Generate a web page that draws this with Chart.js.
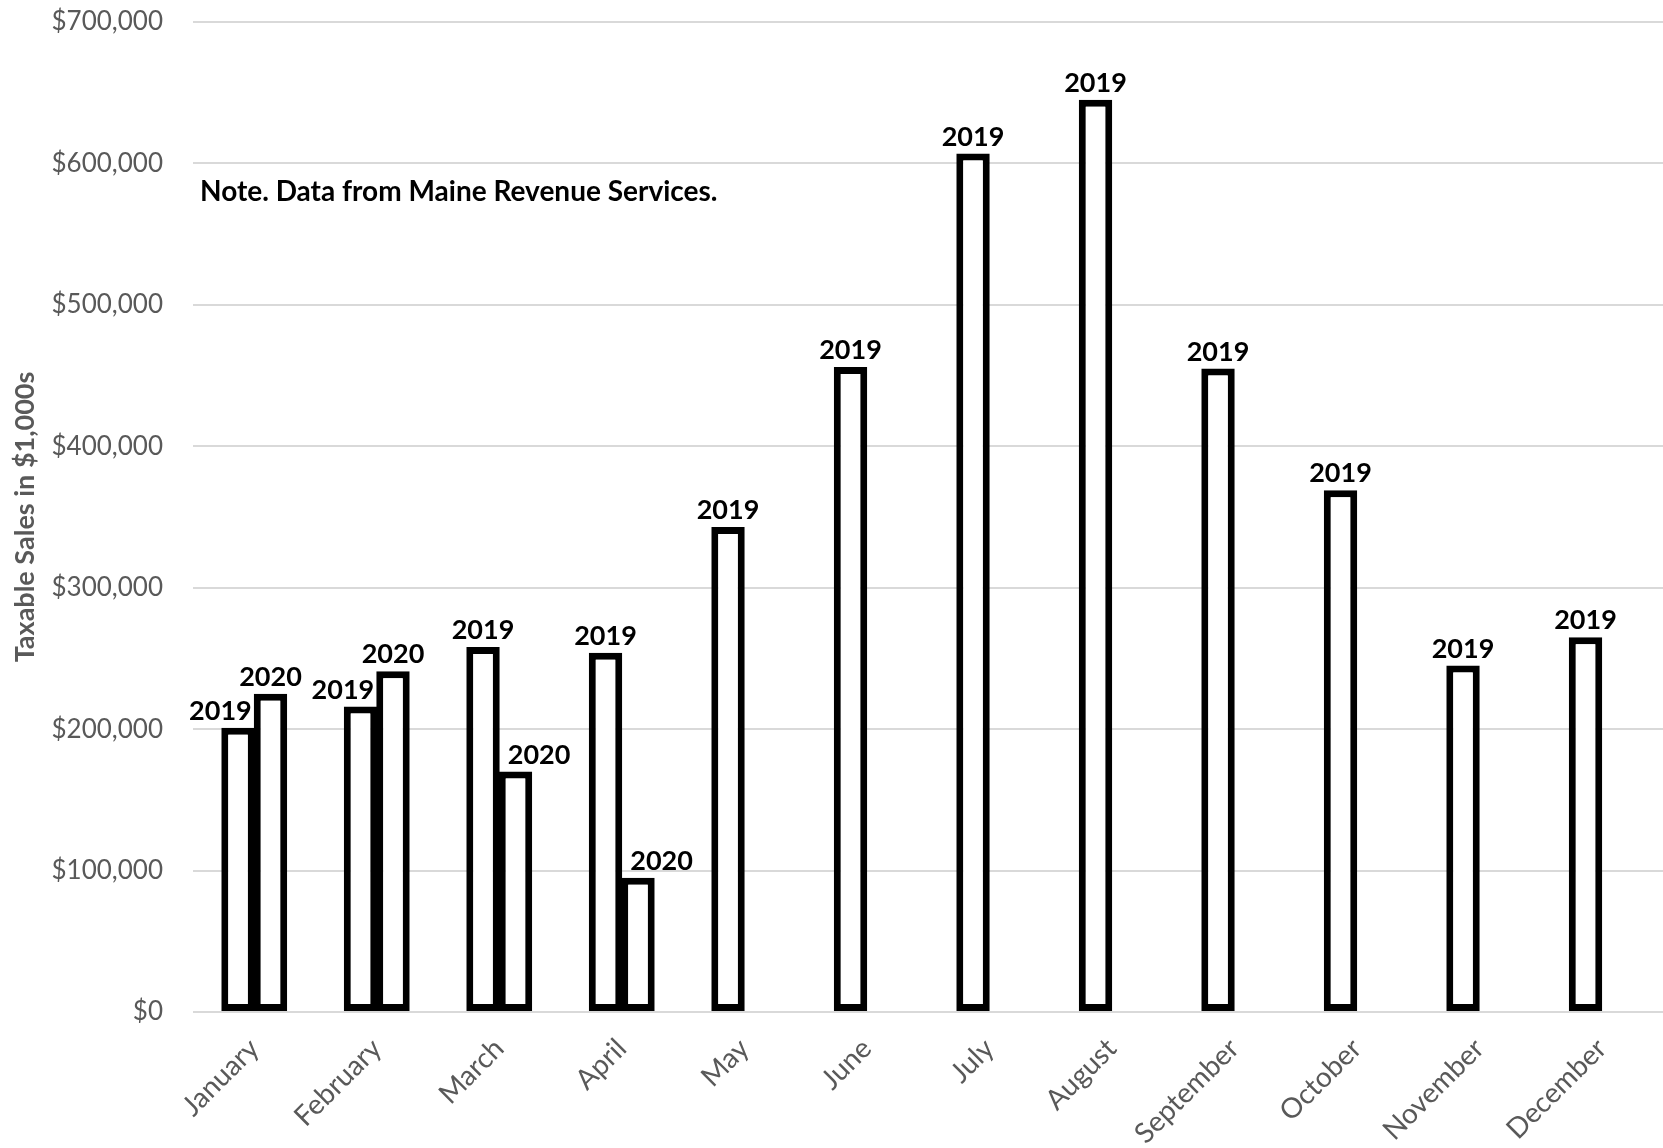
<!DOCTYPE html>
<html>
<head>
<meta charset="utf-8">
<script src="https://cdn.jsdelivr.net/npm/chart.js@4"></script>
<style>
  body { margin: 0; background: #fff; }
  #wrap { width: 1663px; height: 1148px; position: relative; }
</style>
</head>
<body>
<div id="wrap"><canvas id="sales-chart"></canvas></div>
<script>
// Taxable sales in $1,000s
const months = ['January', 'February', 'March', 'April', 'May', 'June', 'July',
  'August', 'September', 'October', 'November', 'December'];
const sales2019 = [201000, 216000, 258000, 254000, 343000, 456000, 607000, 645000, 455000, 369000, 245000, 265000];
const sales2020 = [225000, 241000, 170000, 95000, null, null, null, null, null, null, null, null];
const yTicks = [0, 100000, 200000, 300000, 400000, 500000, 600000, 700000];
const noteText = 'Note. Data from Maine Revenue Services.';

const GREY = '#595959';
const FONT = 'Lato, "Open Sans", sans-serif';

// Draws the year above each bar, nudged sideways when it would hit the neighbour bar
const barLabels = {
  id: 'barLabels',
  afterDatasetsDraw(chart) {
    const ctx = chart.ctx;
    ctx.save();
    ctx.font = 'bold 27px ' + FONT;
    ctx.fillStyle = '#000';
    ctx.textBaseline = 'alphabetic';
    ctx.textAlign = 'left';
    const m0 = chart.getDatasetMeta(0);
    const m1 = chart.getDatasetMeta(1);
    chart.data.datasets.forEach((ds, di) => {
      const meta = chart.getDatasetMeta(di);
      meta.data.forEach((bar, i) => {
        if (ds.data[i] == null) return;
        const text = ds.label;
        const w = ctx.measureText(text).width;
        let left = bar.x - w / 2;
        if (di === 0 && sales2020[i] != null && sales2020[i] > ds.data[i]) {
          const other = m1.data[i];
          const otherLeft = other.x - other.width / 2;
          if (left + w > otherLeft - 2) left = otherLeft - 2 - w;
        }
        if (di === 1 && sales2019[i] > ds.data[i]) {
          const other = m0.data[i];
          const otherRight = other.x + other.width / 2;
          if (left < otherRight + 8) left = otherRight + 8;
        }
        ctx.fillText(text, left, bar.y - 8);
      });
    });
    ctx.restore();
  }
};

// Note text in the upper left of the plot
const notePlugin = {
  id: 'note',
  afterDraw(chart) {
    const ctx = chart.ctx;
    ctx.save();
    ctx.font = 'bold 28px ' + FONT;
    ctx.fillStyle = '#000';
    ctx.textAlign = 'left';
    ctx.textBaseline = 'middle';
    ctx.fillText(noteText, chart.chartArea.left + 7, 192);
    ctx.restore();
  }
};

const barStyle = {
  backgroundColor: '#ffffff',
  borderColor: '#000000',
  borderWidth: 7,
  borderSkipped: false,
  inflateAmount: 0
};

new Chart(document.getElementById('sales-chart'), {
  type: 'bar',
  data: {
    labels: months,
    datasets: [
      Object.assign({ label: '2019', data: sales2019 }, barStyle),
      Object.assign({ label: '2020', data: sales2020 }, barStyle)
    ]
  },
  options: {
    responsive: true,
    maintainAspectRatio: false,
    animation: false,
    layout: { padding: { top: 22, right: 0, left: 0, bottom: 0 } },
    datasets: {
      bar: { categoryPercentage: 0.53, barPercentage: 1.03 }
    },
    plugins: {
      legend: { display: false },
      tooltip: { enabled: false }
    },
    scales: {
      x: {
        grid: { display: false },
        border: { display: false },
        ticks: {
          color: GREY,
          font: { family: FONT, size: 28 },
          minRotation: 45,
          maxRotation: 45,
          padding: 12
        },
        afterFit(scale) { scale.height = 136; }
      },
      y: {
        min: 0,
        max: 700000,
        afterBuildTicks(scale) {
          scale.ticks = yTicks.map(v => ({ value: v }));
        },
        grid: { color: '#d9d9d9', lineWidth: 2, drawTicks: false },
        border: { display: false },
        ticks: {
          color: GREY,
          font: { family: FONT, size: 26 },
          padding: 30,
          callback: v => '$' + v.toLocaleString('en-US')
        },
        title: {
          display: true,
          text: 'Taxable Sales in $1,000s',
          color: GREY,
          font: { family: FONT, size: 27, weight: 'bold' },
          padding: { top: 9, bottom: 0 }
        },
        afterFit(scale) {
          scale.width = 193;
          scale.paddingTop = 0;
          scale.paddingBottom = 0;
        }
      }
    }
  },
  plugins: [barLabels, notePlugin]
});
</script>
</body>
</html>
